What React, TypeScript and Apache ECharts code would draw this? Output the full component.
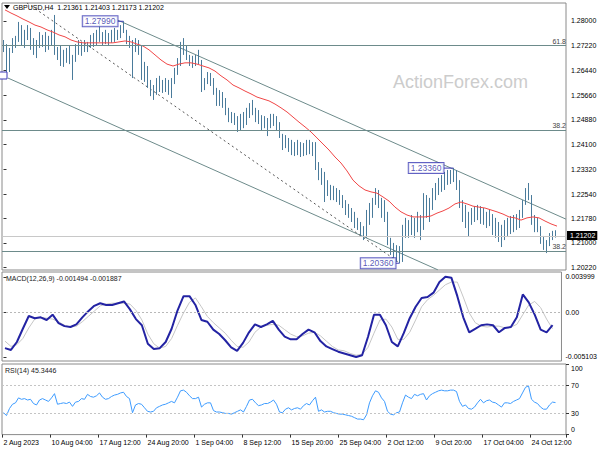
import React, { useEffect, useRef } from "react";
import * as echarts from "echarts";

const timeLabels = ["2 Aug 2023", "10 Aug 04:00", "17 Aug 12:00", "24 Aug 20:00", "1 Sep 04:00", "8 Sep 12:00", "15 Sep 20:00", "25 Sep 04:00", "2 Oct 12:00", "9 Oct 20:00", "17 Oct 04:00", "24 Oct 12:00"];
const barsPerLabel = 16;
const slotCount = 188;

const highs = [
  1.2740, 1.2727, 1.2715, 1.2746, 1.2753, 1.2797, 1.2787, 1.2772, 1.2787, 1.2778,
  1.2746, 1.2740, 1.2765, 1.2756, 1.2765, 1.2753, 1.2772, 1.2819, 1.2718, 1.2724,
  1.2709, 1.2715, 1.2721, 1.2693, 1.2727, 1.2740, 1.2734, 1.2740, 1.2734, 1.2756,
  1.2762, 1.2772, 1.2797, 1.2765, 1.2772, 1.2762, 1.2772, 1.2778, 1.2772, 1.2787,
  1.2799, 1.2772, 1.2753, 1.2740, 1.2746, 1.2740, 1.2721, 1.2671, 1.2658, 1.2614,
  1.2598, 1.2620, 1.2627, 1.2614, 1.2620, 1.2614, 1.2620, 1.2652, 1.2683, 1.2734,
  1.2746, 1.2724, 1.2693, 1.2690, 1.2693, 1.2709, 1.2677, 1.2620, 1.2639, 1.2636,
  1.2620, 1.2589, 1.2582, 1.2576, 1.2557, 1.2526, 1.2513, 1.2510, 1.2500, 1.2507,
  1.2513, 1.2526, 1.2541, 1.2551, 1.2526, 1.2519, 1.2503, 1.2500, 1.2494, 1.2507,
  1.2507, 1.2500, 1.2481, 1.2444, 1.2440, 1.2431, 1.2425, 1.2418, 1.2425, 1.2418,
  1.2415, 1.2425, 1.2425, 1.2418, 1.2418, 1.2355, 1.2336, 1.2324, 1.2298, 1.2283,
  1.2280, 1.2273, 1.2267, 1.2251, 1.2235, 1.2223, 1.2210, 1.2198, 1.2179, 1.2166,
  1.2153, 1.2204, 1.2226, 1.2242, 1.2273, 1.2267, 1.2242, 1.2235, 1.2198, 1.2116,
  1.2100, 1.2093, 1.2090, 1.2157, 1.2179, 1.2172, 1.2188, 1.2179, 1.2198, 1.2188,
  1.2257, 1.2251, 1.2242, 1.2273, 1.2289, 1.2305, 1.2314, 1.2324, 1.2330, 1.2330,
  1.2336, 1.2330, 1.2298, 1.2235, 1.2220, 1.2198, 1.2210, 1.2216, 1.2220, 1.2216,
  1.2210, 1.2198, 1.2204, 1.2191, 1.2179, 1.2166, 1.2157, 1.2172, 1.2179, 1.2185,
  1.2188, 1.2191, 1.2204, 1.2235, 1.2273, 1.2289, 1.2251, 1.2188, 1.2179, 1.2153,
  1.2122, 1.2109, 1.2131, 1.2138, 1.2140,
];
const lows = [
  1.2702, 1.2623, 1.2639, 1.2699, 1.2715, 1.2734, 1.2724, 1.2715, 1.2740, 1.2709,
  1.2693, 1.2683, 1.2715, 1.2718, 1.2702, 1.2709, 1.2724, 1.2693, 1.2677, 1.2658,
  1.2655, 1.2668, 1.2664, 1.2614, 1.2671, 1.2693, 1.2690, 1.2702, 1.2702, 1.2715,
  1.2718, 1.2724, 1.2734, 1.2724, 1.2727, 1.2721, 1.2731, 1.2734, 1.2740, 1.2746,
  1.2762, 1.2727, 1.2715, 1.2620, 1.2702, 1.2693, 1.2614, 1.2608, 1.2589, 1.2563,
  1.2551, 1.2567, 1.2576, 1.2573, 1.2576, 1.2567, 1.2557, 1.2601, 1.2630, 1.2658,
  1.2693, 1.2677, 1.2658, 1.2652, 1.2658, 1.2664, 1.2576, 1.2582, 1.2601, 1.2595,
  1.2567, 1.2532, 1.2532, 1.2526, 1.2503, 1.2481, 1.2478, 1.2472, 1.2450, 1.2456,
  1.2462, 1.2472, 1.2494, 1.2503, 1.2481, 1.2475, 1.2456, 1.2462, 1.2437, 1.2462,
  1.2469, 1.2456, 1.2431, 1.2393, 1.2399, 1.2387, 1.2377, 1.2374, 1.2377, 1.2371,
  1.2374, 1.2377, 1.2380, 1.2374, 1.2330, 1.2298, 1.2283, 1.2229, 1.2248, 1.2235,
  1.2235, 1.2229, 1.2220, 1.2210, 1.2188, 1.2179, 1.2166, 1.2147, 1.2141, 1.2122,
  1.2109, 1.2116, 1.2157, 1.2179, 1.2220, 1.2210, 1.2179, 1.2166, 1.2093, 1.2062,
  1.2052, 1.2040, 1.2036, 1.2040, 1.2116, 1.2116, 1.2125, 1.2116, 1.2134, 1.2109,
  1.2141, 1.2179, 1.2166, 1.2204, 1.2235, 1.2251, 1.2261, 1.2267, 1.2283, 1.2286,
  1.2292, 1.2267, 1.2210, 1.2166, 1.2147, 1.2119, 1.2157, 1.2166, 1.2172, 1.2160,
  1.2157, 1.2147, 1.2153, 1.2125, 1.2116, 1.2103, 1.2087, 1.2109, 1.2122, 1.2128,
  1.2134, 1.2141, 1.2147, 1.2179, 1.2220, 1.2235, 1.2157, 1.2134, 1.2134, 1.2097,
  1.2078, 1.2068, 1.2090, 1.2109, 1.2117,
];
const closes = [
  1.2721, 1.2645, 1.2702, 1.2734, 1.2740, 1.2778, 1.2740, 1.2756, 1.2772, 1.2724,
  1.2709, 1.2727, 1.2746, 1.2734, 1.2727, 1.2740, 1.2756, 1.2702, 1.2693, 1.2677,
  1.2683, 1.2702, 1.2677, 1.2671, 1.2709, 1.2715, 1.2709, 1.2724, 1.2715, 1.2740,
  1.2746, 1.2756, 1.2746, 1.2740, 1.2753, 1.2740, 1.2756, 1.2759, 1.2762, 1.2772,
  1.2778, 1.2740, 1.2727, 1.2702, 1.2727, 1.2715, 1.2645, 1.2630, 1.2608, 1.2582,
  1.2576, 1.2601, 1.2595, 1.2589, 1.2601, 1.2595, 1.2608, 1.2639, 1.2671, 1.2709,
  1.2715, 1.2693, 1.2677, 1.2671, 1.2683, 1.2677, 1.2595, 1.2608, 1.2627, 1.2614,
  1.2582, 1.2551, 1.2567, 1.2551, 1.2519, 1.2500, 1.2494, 1.2488, 1.2472, 1.2488,
  1.2500, 1.2513, 1.2526, 1.2519, 1.2503, 1.2494, 1.2481, 1.2488, 1.2469, 1.2494,
  1.2488, 1.2472, 1.2444, 1.2409, 1.2425, 1.2409, 1.2399, 1.2393, 1.2406, 1.2393,
  1.2399, 1.2409, 1.2399, 1.2406, 1.2346, 1.2324, 1.2305, 1.2283, 1.2273, 1.2261,
  1.2254, 1.2248, 1.2235, 1.2223, 1.2204, 1.2198, 1.2179, 1.2166, 1.2157, 1.2141,
  1.2134, 1.2188, 1.2204, 1.2220, 1.2251, 1.2229, 1.2220, 1.2188, 1.2109, 1.2084,
  1.2078, 1.2071, 1.2078, 1.2141, 1.2157, 1.2147, 1.2157, 1.2153, 1.2172, 1.2166,
  1.2220, 1.2204, 1.2198, 1.2251, 1.2267, 1.2283, 1.2292, 1.2305, 1.2311, 1.2305,
  1.2317, 1.2292, 1.2229, 1.2204, 1.2179, 1.2166, 1.2188, 1.2198, 1.2204, 1.2188,
  1.2179, 1.2172, 1.2179, 1.2147, 1.2157, 1.2134, 1.2125, 1.2147, 1.2157, 1.2166,
  1.2172, 1.2179, 1.2198, 1.2220, 1.2261, 1.2251, 1.2179, 1.2166, 1.2147, 1.2116,
  1.2093, 1.2097, 1.2116, 1.2125, 1.21202,
];
const firstOpen = 1.2730;

// 55-period moving average, read every second bar
const maValues = [
  1.2835, 1.2825, 1.2816, 1.2806, 1.2797, 1.2787, 1.2781, 1.2772, 1.2765, 1.2756,
  1.2750, 1.2740, 1.2734, 1.2731, 1.2731, 1.2731, 1.2731, 1.2731, 1.2731, 1.2734,
  1.2737, 1.2734, 1.2727, 1.2721, 1.2709, 1.2693, 1.2677, 1.2664, 1.2658, 1.2664,
  1.2668, 1.2668, 1.2664, 1.2658, 1.2652, 1.2642, 1.2627, 1.2614, 1.2598, 1.2589,
  1.2579, 1.2570, 1.2560, 1.2554, 1.2548, 1.2538, 1.2526, 1.2513, 1.2497, 1.2481,
  1.2466, 1.2450, 1.2431, 1.2412, 1.2393, 1.2371, 1.2352, 1.2327, 1.2298, 1.2280,
  1.2267, 1.2261, 1.2257, 1.2245, 1.2232, 1.2213, 1.2198, 1.2188, 1.2182, 1.2182,
  1.2182, 1.2185, 1.2194, 1.2201, 1.2210, 1.2223, 1.2229, 1.2223, 1.2216, 1.2213,
  1.2210, 1.2204, 1.2198, 1.2191, 1.2182, 1.2179, 1.2172, 1.2179, 1.2182, 1.2179,
  1.2169, 1.2160, 1.2153,
];
const macdValues = [
  -0.0041, -0.0043, -0.0034, -0.0019, -0.00045, -0.0007, -0.0006, -0.0009, -0.0003, -0.00125,
  -0.0016, -0.0017, -0.0014, -0.0006, 0.0001, 0.0007, 0.0010, 0.0008, 0.0008, 0.0010,
  0.0012, 0.0003, -0.0008, -0.0015, -0.0036, -0.0042, -0.0041, -0.0034, -0.0019, 0.0002,
  0.0018, 0.0018, 0.0008, -0.0009, -0.0011, -0.0020, -0.0025, -0.0032, -0.0040, -0.0044,
  -0.0035, -0.0023, -0.0014, -0.0017, -0.0014, -0.0010, -0.0020, -0.0028, -0.0031, -0.0031,
  -0.0025, -0.0020, -0.0023, -0.0033, -0.0039, -0.0042, -0.0045, -0.0047, -0.0049, -0.0051,
  -0.0049, -0.0028, -0.0003, -0.0003, -0.0015, -0.0034, -0.0039, -0.0024, -0.0007, 0.0006,
  0.0016, 0.0017, 0.0022, 0.0034, 0.0040, 0.0039, 0.0018, -0.0006, -0.0023, -0.0019,
  -0.0015, -0.0014, -0.0015, -0.0023, -0.0018, -0.0017, -0.0006, 0.0020, 0.0011, -0.0003,
  -0.0020, -0.0023, -0.001494,
];
const signalValues = [
  -0.0033, -0.0039, -0.0037, -0.0030, -0.0018, -0.0008, -0.0006, -0.0007, -0.0008, -0.0011,
  -0.0015, -0.0017, -0.0016, -0.0011, -0.0005, 0.0001, 0.0007, 0.0009, 0.0010, 0.0010,
  0.0010, 0.0009, 0.0002, -0.0009, -0.0025, -0.0036, -0.0041, -0.0039, -0.0030, -0.0015,
  -0.0001, 0.0011, 0.0016, 0.0006, -0.0005, -0.0012, -0.0018, -0.0024, -0.0032, -0.0039,
  -0.0040, -0.0034, -0.0023, -0.0017, -0.0015, -0.0014, -0.0015, -0.0020, -0.0025, -0.0028,
  -0.0027, -0.0024, -0.0023, -0.0027, -0.0033, -0.0039, -0.0043, -0.0044, -0.0047, -0.0049,
  -0.0048, -0.0040, -0.0024, -0.0009, -0.0008, -0.0017, -0.0031, -0.0031, -0.0023, -0.0009,
  0.0006, 0.0014, 0.0019, 0.0025, 0.0031, 0.0034, 0.0034, 0.0017, -0.0001, -0.0012,
  -0.0016, -0.0017, -0.0016, -0.0016, -0.0018, -0.0017, -0.0014, -0.0003, 0.0008, 0.0012,
  0.0005, -0.0008, -0.001887,
];
const rsiValues = [
  31, 27, 37, 43, 45, 52, 50, 51, 49, 50,
  44, 42, 49, 51, 49, 47, 52, 58, 43, 44,
  45, 44, 46, 40, 46, 47, 51, 50, 57, 54,
  53, 55, 59, 53, 50, 51, 54, 56, 57, 59,
  60, 54, 51, 31, 42, 44, 43, 38, 33, 32,
  33, 38, 40, 42, 43, 45, 47, 45, 53, 62,
  63, 60, 55, 51, 51, 53, 39, 43, 45, 45,
  34, 32, 32, 31, 30, 30, 29, 31, 33, 35,
  32, 40, 49, 50, 45, 41, 42, 44, 44, 46,
  49, 43, 32, 31, 36, 38, 35, 37, 38, 36,
  41, 44, 42, 48, 53, 33, 35, 32, 33, 33,
  31, 30, 29, 29, 28, 27, 26, 24, 22, 22,
  21, 28, 45, 55, 62, 60, 52, 47, 33, 29,
  28, 31, 32, 45, 56, 53, 51, 57, 55, 57,
  58, 49, 55, 58, 60, 62, 63, 62, 62, 63,
  63, 61, 47, 40, 42, 37, 36, 39, 45, 50,
  45, 48, 49, 46, 45, 42, 39, 45, 45, 44,
  47, 49, 51, 59, 67, 69, 50, 46, 44, 39,
  36, 36, 42, 46, 45.3446,
];

const priceTicks = [1.2022, 1.21, 1.2178, 1.2254, 1.2332, 1.241, 1.2488, 1.2566, 1.2644, 1.2722, 1.28];
const macdTicks = [-0.005103, 0, 0.003999];
const rsiTicks = [0, 30, 70, 100];
const rsiLevels = [70, 30];
const fibLevels = [
  { price: 1.2722, label: "61.8" },
  { price: 1.2456, label: "38.2" },
  { price: 1.2075, label: "38.2" },
];
const channelUpper = [[38, 1.2803], [187.5, 1.2175]];
const channelLower = [[1.5, 1.262], [144.8, 1.2015]];
const dashedTrend = [[7.8, 1.2857], [132.2, 1.2036]];
const priceMarks = [
  { bar: 40, price: 1.2799, text: "1.27990" },
  { bar: 150, price: 1.2336, text: "1.23360" },
  { bar: 132, price: 1.2036, text: "1.20360" },
];
const lastPrice = 1.21202;
const headerText = "GBPUSD,H4  1.21361 1.21403 1.21173 1.21202";
const macdTitle = "MACD(12,26,9) -0.001494 -0.001887";
const rsiTitle = "RSI(14) 45.3446";
const watermark = "ActionForex.com";

const FONT = 'Tahoma, "Liberation Sans", Arial, sans-serif';
const BAR = "#4a7b9b";
const LINE_GREY = "#6d8b8b";
const BORDER = "#8a8a8a";

export default function App() {
  const ref = useRef<HTMLDivElement>(null);
  useEffect(() => {
    const chart = echarts.init(ref.current!, null, { renderer: "svg" });
    const opens = closes.map((c, i) => (i === 0 ? firstOpen : closes[i - 1]));
    const candles = closes.map((c, i) => [opens[i], c, lows[i], highs[i]]);
    const cats = Array.from({ length: slotCount }, (_, k) =>
      k % barsPerLabel === 0 && k / barsPerLabel < timeLabels.length ? timeLabels[k / barsPerLabel] : ""
    );
    const isLabel = (idx: number) => idx % barsPerLabel === 0 && idx / barsPerLabel < timeLabels.length;
    const everySecond = (arr: number[]) => arr.map((v, k) => [0.5 + 2 * k, v]);
    const markGaps = [6, 10, 4];

    const gridBase = { left: 2, width: 564, show: true, borderColor: BORDER, borderWidth: 1, backgroundColor: "#fff" };
    const yCommon = (ticks: number[]) => ({
      position: "right" as const,
      axisLine: { show: false },
      splitLine: { show: false },
      axisTick: { show: true, customValues: ticks, length: 3, lineStyle: { color: "#333" } },
    });

    const option: any = {
      animation: false,
      backgroundColor: "#fff",
      grid: [
        { ...gridBase, top: 3, height: 267 },
        { ...gridBase, top: 272, height: 89 },
        { ...gridBase, top: 364, height: 70.6 },
      ],
      xAxis: [
        { type: "category", gridIndex: 0, data: cats, boundaryGap: true, show: false },
        { type: "value", gridIndex: 0, min: -0.5, max: slotCount - 0.5, show: false },
        { type: "value", gridIndex: 1, min: -0.5, max: slotCount - 0.5, show: false },
        {
          type: "category", gridIndex: 2, data: cats, boundaryGap: true,
          axisLine: { show: false },
          axisTick: { show: true, interval: (i: number) => isLabel(i), length: 3, lineStyle: { color: "#333" } },
          axisLabel: {
            interval: (i: number) => isLabel(i), align: "left", fontSize: 7, fontFamily: FONT,
            color: "#000", margin: 4,
          },
        },
      ],
      yAxis: [
        {
          type: "value", gridIndex: 0, min: 1.20146, max: 1.28567, ...yCommon(priceTicks),
          axisLabel: { customValues: priceTicks, formatter: (v: number) => v.toFixed(5), fontSize: 7, fontFamily: FONT, color: "#000", margin: 5 },
        },
        {
          type: "value", gridIndex: 1, min: -0.005557, max: 0.004544, ...yCommon(macdTicks),
          axisLabel: { customValues: macdTicks, formatter: (v: number) => (v === 0 ? "0.00" : v.toFixed(6)), fontSize: 7, fontFamily: FONT, color: "#000", margin: 4 },
        },
        {
          type: "value", gridIndex: 2, min: 0, max: 100, ...yCommon(rsiTicks),
          axisLabel: {
            customValues: rsiTicks, fontSize: 7, fontFamily: FONT, color: "#000", margin: 5,
            formatter: (v: number) => (v === 100 ? "{dn|100}" : v === 0 ? "{up|0}" : String(v)),
            rich: {
              dn: { padding: [9, 0, 0, 0], fontSize: 7, fontFamily: FONT, color: "#000" },
              up: { padding: [0, 0, 10, 0], fontSize: 7, fontFamily: FONT, color: "#000" },
            },
          },
        },
      ],
      series: [
        {
          type: "line", xAxisIndex: 1, yAxisIndex: 0, data: channelUpper, symbol: "none", silent: true,
          lineStyle: { color: LINE_GREY, width: 1 }, z: 1,
        },
        {
          type: "line", xAxisIndex: 1, yAxisIndex: 0, data: channelLower, symbol: "none", silent: true,
          lineStyle: { color: LINE_GREY, width: 1 }, z: 1,
        },
        {
          type: "line", xAxisIndex: 1, yAxisIndex: 0, data: dashedTrend, symbol: "none", silent: true,
          lineStyle: { color: "#555", width: 1, type: [2, 3] }, z: 1,
        },
        {
          type: "candlestick", xAxisIndex: 0, yAxisIndex: 0, data: candles, barWidth: 1.3, silent: true, z: 3,
          itemStyle: { color: BAR, color0: BAR, borderColor: BAR, borderColor0: BAR, borderWidth: 1 },
          markLine: {
            silent: true, symbol: ["none", "none"], animation: false, precision: 6,
            data: [
              ...fibLevels.map((f) => ({
                yAxis: f.price,
                lineStyle: { color: LINE_GREY, width: 1, type: "solid" },
                label: { show: true, position: "insideEndTop", formatter: f.label, fontSize: 7, fontFamily: FONT, color: "#444", distance: [0, 1] },
              })),
              {
                yAxis: lastPrice,
                lineStyle: { color: "#c8c8c8", width: 1, type: "solid" },
                label: {
                  show: true, position: "end", formatter: lastPrice.toFixed(5), distance: 1,
                  backgroundColor: "#000", color: "#fff", padding: [1, 2, 0, 3], fontSize: 7, lineHeight: 8,
                  fontFamily: FONT, offset: [0, -1],
                },
              },
            ],
          },
        },
        {
          type: "line", xAxisIndex: 1, yAxisIndex: 0, data: everySecond(maValues), symbol: "none", silent: true,
          lineStyle: { color: "#f04646", width: 1 }, z: 4,
        },
        ...priceMarks.map((m, j) => ({
          type: "line", xAxisIndex: 1, yAxisIndex: 0, symbol: "none", silent: true, z: 5,
          data: [[m.bar - markGaps[j] / 3, m.price], [m.bar, m.price]],
          lineStyle: { color: "#3b3bb5", width: 1 },
        })),
        {
          type: "scatter", xAxisIndex: 1, yAxisIndex: 0, symbolSize: 0, silent: true, z: 6,
          data: priceMarks.map((m, j) => ({
            value: [m.bar, m.price],
            label: {
              show: true, position: "left", distance: markGaps[j], formatter: m.text,
              backgroundColor: "#fff", borderColor: "#3b3bb5", borderWidth: 1, padding: [1, 2, 0, 2],
              color: "#2b2ba5", fontSize: 8.5, fontFamily: FONT, lineHeight: 9,
            },
          })),
        },
        {
          type: "line", xAxisIndex: 2, yAxisIndex: 1, data: everySecond(signalValues), symbol: "none", silent: true,
          lineStyle: { color: "#c6c6c6", width: 1 }, z: 2,
          markLine: {
            silent: true, symbol: ["none", "none"], precision: 6,
            data: [{ yAxis: 0 }],
            lineStyle: { color: "#b8b8b8", width: 1, type: [2, 2] },
            label: { show: false },
          },
        },
        {
          type: "line", xAxisIndex: 2, yAxisIndex: 1, data: everySecond(macdValues), symbol: "none", silent: true,
          lineStyle: { color: "#2323a3", width: 2 }, z: 3,
        },
        {
          type: "line", xAxisIndex: 3, yAxisIndex: 2, data: rsiValues, symbol: "none", silent: true,
          lineStyle: { color: "#3d9bff", width: 1 }, z: 3,
          markLine: {
            silent: true, symbol: ["none", "none"],
            data: rsiLevels.map((v) => ({ yAxis: v })),
            lineStyle: { color: "#c4c4c4", width: 1, type: [2, 2] },
            label: { show: false },
          },
        },
      ],
      graphic: [
        {
          type: "text", left: 393, top: 73, z: 0, silent: true,
          style: { text: watermark, fontSize: 18, fontFamily: FONT, fill: "#cccccc" },
        },
        {
          type: "polygon", z: 100, silent: true,
          shape: { points: [[4, 5], [10, 5], [7, 9]] },
          style: { fill: "#000" },
        },
        {
          type: "text", left: 13, top: 4, z: 100, silent: true,
          style: { text: headerText, fontSize: 7, fontFamily: FONT, fill: "#000" },
        },
        {
          type: "rect", z: 100, silent: true,
          shape: { x: -20, y: 72, width: 27, height: 7 },
          style: { fill: "#fff", stroke: "#3b3bb5", lineWidth: 1 },
        },
        {
          type: "text", left: 6, top: 275, z: 100, silent: true,
          style: { text: macdTitle, fontSize: 7, fontFamily: FONT, fill: "#222" },
        },
        {
          type: "text", left: 5, top: 367, z: 100, silent: true,
          style: { text: rsiTitle, fontSize: 7, fontFamily: FONT, fill: "#222" },
        },
      ],
    };
    chart.setOption(option);
    return () => chart.dispose();
  }, []);
  return <div ref={ref} style={{ position: "fixed", left: 0, top: 0, width: 600, height: 450, background: "#fff" }} />;
}
